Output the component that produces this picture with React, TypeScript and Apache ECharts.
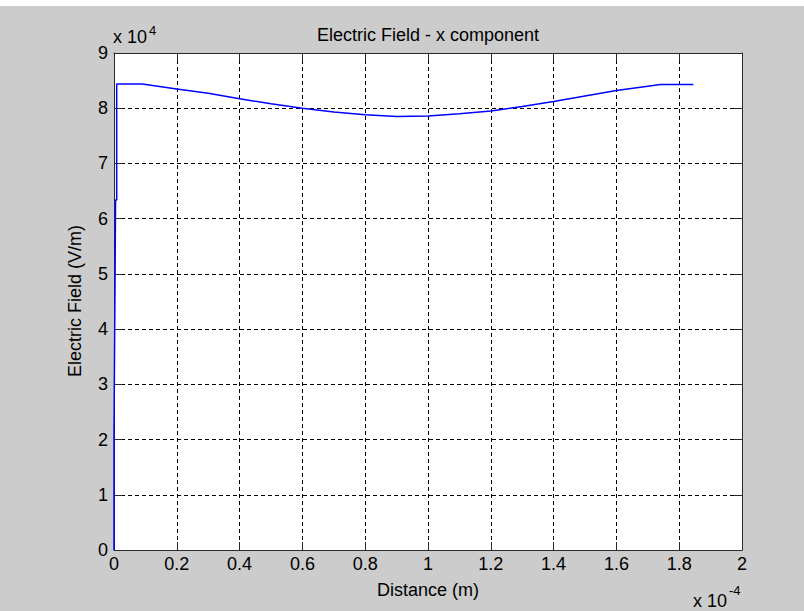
import React, { useEffect, useRef } from "react";
import * as echarts from "echarts";

// x in units of 1e-4 m, y in units of 1e4 V/m
const distance = [
  0, 0, 0.005, 0.0086, 0.0086, 0.09, 0.2, 0.3, 0.4, 0.5, 0.6, 0.7, 0.8, 0.9,
  1.0, 1.1, 1.2, 1.3, 1.4, 1.5, 1.6, 1.7, 1.74, 1.845,
];
const field = [
  0, 2.14, 6.34, 6.34, 8.44, 8.44, 8.35, 8.27, 8.17, 8.08, 8.0, 7.93, 7.88,
  7.85, 7.86, 7.9, 7.95, 8.03, 8.12, 8.22, 8.32, 8.4, 8.43, 8.43,
];

const titleText = "Electric Field - x component";
const xName = "Distance (m)";
const yName = "Electric Field (V/m)";

const FONT = "'Liberation Sans', Arial, Helvetica, sans-serif";

export default function App() {
  const ref = useRef<HTMLDivElement>(null);

  useEffect(() => {
    if (!ref.current) return;
    const chart = echarts.init(ref.current, null, { renderer: "svg" });
    const data = distance.map((d, i) => [d, field[i]]);

    const axisLine = { show: true, onZero: false, lineStyle: { color: "#2a2a2a", width: 1 } };
    const axisTick = { show: true, inside: true, length: 8, lineStyle: { color: "#2a2a2a", width: 1 } };
    const splitLine = { show: true, lineStyle: { color: "#000", width: 1, type: [4, 3] as any } };
    const axisLabel = { fontFamily: FONT, fontSize: 18, color: "#000", margin: 5 };

    chart.setOption({
      animation: false,
      backgroundColor: "transparent",
      grid: { left: 114, right: 62, top: 53, bottom: 61, containLabel: false, show: true, backgroundColor: "#fff", borderWidth: 0 },
      xAxis: [
        { type: "value", min: 0, max: 2, interval: 0.2, position: "bottom", axisLine, axisTick, splitLine, axisLabel },
        { type: "value", min: 0, max: 2, interval: 0.2, position: "top", axisLine, axisTick, splitLine: { show: false }, axisLabel: { show: false } },
      ],
      yAxis: [
        { type: "value", min: 0, max: 9, interval: 1, position: "left", axisLine, axisTick, splitLine, axisLabel: { ...axisLabel, margin: 6 } },
        { type: "value", min: 0, max: 9, interval: 1, position: "right", axisLine, axisTick, splitLine: { show: false }, axisLabel: { show: false } },
      ],
      series: [
        {
          type: "line",
          xAxisIndex: 0,
          yAxisIndex: 0,
          data,
          showSymbol: false,
          symbol: "none",
          lineStyle: { color: "#0000ff", width: 1.5 },
          z: 5,
        },
      ],
      graphic: [
        { type: "text", x: 428, y: 35, style: { text: titleText, font: `18px ${FONT}`, fill: "#000", textAlign: "center", textVerticalAlign: "middle" } },
        { type: "text", x: 428, y: 590, style: { text: xName, font: `18px ${FONT}`, fill: "#000", textAlign: "center", textVerticalAlign: "middle" } },
        { type: "text", x: 75, y: 301, rotation: Math.PI / 2, style: { text: yName, font: `18px ${FONT}`, fill: "#000", textAlign: "center", textVerticalAlign: "middle" } },
        { type: "text", x: 113, y: 37, style: { text: "x 10", font: `18px ${FONT}`, fill: "#000", textAlign: "left", textVerticalAlign: "middle" } },
        { type: "text", x: 149, y: 30, style: { text: "4", font: `13px ${FONT}`, fill: "#000", textAlign: "left", textVerticalAlign: "middle" } },
        { type: "text", x: 693, y: 601, style: { text: "x 10", font: `18px ${FONT}`, fill: "#000", textAlign: "left", textVerticalAlign: "middle" } },
        { type: "text", x: 729, y: 590, style: { text: "-4", font: `13px ${FONT}`, fill: "#000", textAlign: "left", textVerticalAlign: "middle" } },
      ],
    });
    return () => chart.dispose();
  }, []);

  return (
    <div
      style={{
        position: "fixed",
        left: 0,
        top: 0,
        width: 804,
        height: 611,
        background: "linear-gradient(to bottom, #ffffff 0px, #ffffff 6px, #cccccc 6px, #cccccc 100%)",
      }}
    >
      <div ref={ref} style={{ width: 804, height: 611 }} />
    </div>
  );
}
